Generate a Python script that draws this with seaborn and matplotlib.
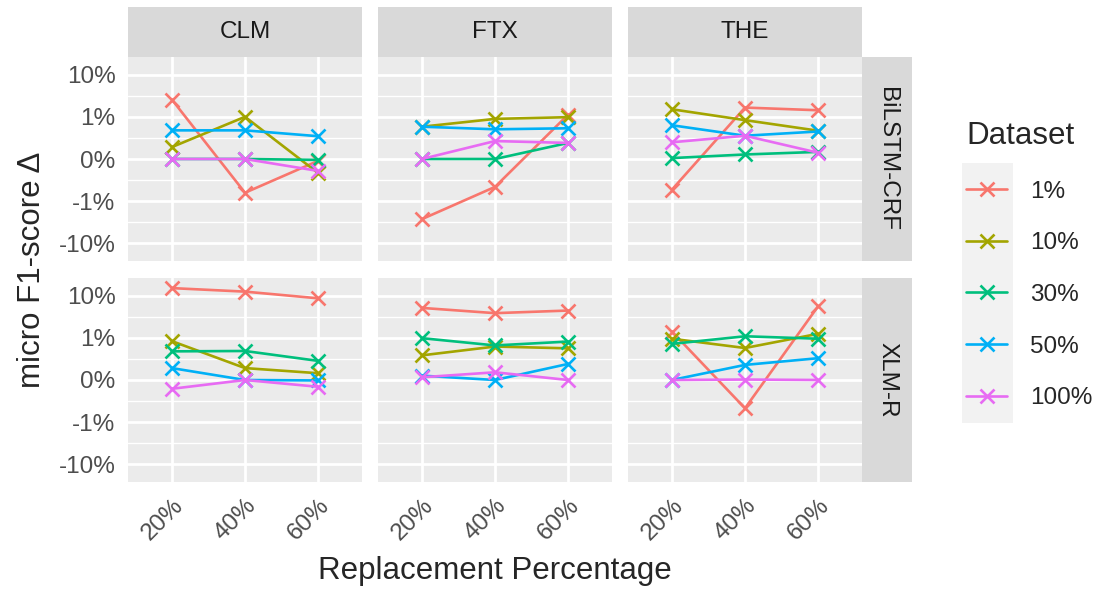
import numpy as np
import pandas as pd
import matplotlib
matplotlib.use("Agg")
import matplotlib.pyplot as plt
import seaborn as sns
from matplotlib.lines import Line2D
from matplotlib.patches import Rectangle

# replacement percentage on x, micro F1 delta (in %) on y
replacement = [20, 40, 60]
replacement_labels = ["20%", "40%", "60%"]
datasets = ["1%", "10%", "30%", "50%", "100%"]
embeddings = ["CLM", "FTX", "THE"]
models = ["BiLSTM-CRF", "XLM-R"]
colors = ["#F8766D", "#A3A500", "#00BF7D", "#00B0F6", "#E76BF3"]

y_ticks = [-10, -1, 0, 1, 10]
y_tick_labels = ["-10%", "-1%", "0%", "1%", "10%"]

# one dict per panel: dataset -> values at 20/40/60 %
bilstm_clm = {"1%": [2.6, -0.62, -0.02], "10%": [0.14, 1.0, -0.17], "30%": [0.0, 0.0, -0.01],
              "50%": [0.46, 0.46, 0.32], "100%": [0.0, 0.0, -0.14]}
bilstm_ftx = {"1%": [-2.7, -0.44, 1.13], "10%": [0.57, 0.89, 0.98], "30%": [0.0, 0.0, 0.2],
              "50%": [0.57, 0.49, 0.52], "100%": [0.0, 0.23, 0.2]}
bilstm_the = {"1%": [-0.52, 1.67, 1.44], "10%": [1.52, 0.83, 0.45], "30%": [0.01, 0.05, 0.08],
              "50%": [0.62, 0.33, 0.43], "100%": [0.21, 0.33, 0.07]}
xlmr_clm = {"1%": [15.4, 12.7, 8.8], "10%": [0.83, 0.14, 0.076], "30%": [0.46, 0.47, 0.25],
            "50%": [0.14, 0.0, -0.005], "100%": [-0.1, 0.0, -0.076]}
xlmr_ftx = {"1%": [5.2, 3.9, 4.5], "10%": [0.36, 0.61, 0.55], "30%": [0.98, 0.65, 0.81],
            "50%": [0.048, 0.0, 0.2], "100%": [0.03, 0.087, 0.0]}
xlmr_the = {"1%": [1.42, -0.45, 5.7], "10%": [0.95, 0.56, 1.25], "30%": [0.71, 1.09, 0.95],
            "50%": [0.0, 0.185, 0.3], "100%": [0.0, 0.005, 0.0]}

panels = {("BiLSTM-CRF", "CLM"): bilstm_clm, ("BiLSTM-CRF", "FTX"): bilstm_ftx,
          ("BiLSTM-CRF", "THE"): bilstm_the, ("XLM-R", "CLM"): xlmr_clm,
          ("XLM-R", "FTX"): xlmr_ftx, ("XLM-R", "THE"): xlmr_the}

rows = []
for (model, emb), vals in panels.items():
    for ds in datasets:
        for x, v in zip(replacement, vals[ds]):
            rows.append({"model": model, "embedding": emb, "Dataset": ds, "pct": x, "delta": v})
df = pd.DataFrame(rows)

sns.set_style("white")
plt.rcParams["font.family"] = ["Liberation Sans", "DejaVu Sans"]

W, H = 1109, 594
fig = plt.figure(figsize=(W / 100, H / 100), dpi=100)


def px_box(x0, y0, x1, y1):
    return [x0 / W, 1 - y1 / H, (x1 - x0) / W, (y1 - y0) / H]


def fwd(v):
    return np.arcsinh(np.asarray(v) / 0.2)


def inv(u):
    return 0.2 * np.sinh(np.asarray(u))


u_ticks = fwd(y_ticks)
minor = list(inv((u_ticks[:-1] + u_ticks[1:]) / 2))

cols_x = [(128, 362), (378, 612), (628, 862)]
rows_y = [(57, 261), (278, 482)]
palette = dict(zip(datasets, colors))

for r, model in enumerate(models):
    for c, emb in enumerate(embeddings):
        x0, x1 = cols_x[c]
        y0, y1 = rows_y[r]
        ax = fig.add_axes(px_box(x0, y0, x1, y1))
        sub = df[(df.model == model) & (df.embedding == emb)]
        sns.lineplot(data=sub, x="pct", y="delta", hue="Dataset", hue_order=datasets,
                     palette=palette, marker="x", markersize=10, mew=1.9, lw=1.9,
                     errorbar=None, legend=False, ax=ax)
        for ln in ax.lines:
            ln.set_markeredgecolor(ln.get_color())
        ax.set_facecolor("#EBEBEB")
        ax.set_yscale("function", functions=(fwd, inv))
        ax.set_ylim(-26.8, 26.8)
        ax.set_xlim(8, 72)
        ax.set_yticks(y_ticks)
        ax.set_yticks(minor, minor=True)
        ax.set_xticks(replacement)
        ax.grid(True, which="major", color="white", lw=2.0)
        ax.grid(True, which="minor", axis="y", color="white", lw=1.0)
        ax.set_axisbelow(True)
        for s in ax.spines.values():
            s.set_visible(False)
        ax.set_xlabel("")
        ax.set_ylabel("")
        ax.tick_params(which="minor", length=0)
        ax.tick_params(which="major", length=5, width=1.4, color="#333333",
                       labelsize=17.5, labelcolor="#4D4D4D", pad=4)
        if c == 0:
            ax.set_yticklabels(y_tick_labels)
        else:
            ax.tick_params(axis="y", length=0, labelleft=False)
        if r == 1:
            ax.set_xticklabels(replacement_labels, rotation=45, ha="right", va="top",
                               rotation_mode="anchor")
        else:
            ax.tick_params(axis="x", length=0, labelbottom=False)

        # facet strips
        if r == 0:
            sax = fig.add_axes(px_box(x0, 7, x1, 57))
            sax.set_facecolor("#D9D9D9")
            sax.set_xticks([]); sax.set_yticks([])
            for s in sax.spines.values():
                s.set_visible(False)
            sax.text(0.5, 0.5, emb, ha="center", va="center", fontsize=17.5,
                     color="#1A1A1A", transform=sax.transAxes)
        if c == 2:
            sax = fig.add_axes(px_box(862, y0, 912, y1))
            sax.set_facecolor("#D9D9D9")
            sax.set_xticks([]); sax.set_yticks([])
            for s in sax.spines.values():
                s.set_visible(False)
            sax.text(0.5, 0.5, model, ha="center", va="center", fontsize=17.5,
                     color="#1A1A1A", rotation=-90, transform=sax.transAxes)

fig.text(495 / W, 1 - 571 / H, "Replacement Percentage", ha="center", va="center", fontsize=22.5)
fig.text(32 / W, 1 - 270 / H, "micro F1-score Δ", ha="center", va="center",
         rotation=90, fontsize=22.5)

# legend
fig.patches.append(Rectangle((962 / W, 1 - 423 / H), 51 / W, 260 / H,
                             transform=fig.transFigure, facecolor="#F2F2F2",
                             edgecolor="none", zorder=0))
handles = [Line2D([], [], color=col, marker="x", lw=1.9, markersize=10, mew=1.9)
           for col in colors]
leg = fig.legend(handles, datasets, title="Dataset", loc="upper left",
                 bbox_to_anchor=(966 / W, 1 - 121 / H), frameon=False,
                 fontsize=17.5, title_fontsize=22.5, handlelength=1.7,
                 handletextpad=0.95, labelspacing=1.22, borderpad=0,
                 borderaxespad=0, alignment="left")

fig.savefig("out.png", dpi=100)
